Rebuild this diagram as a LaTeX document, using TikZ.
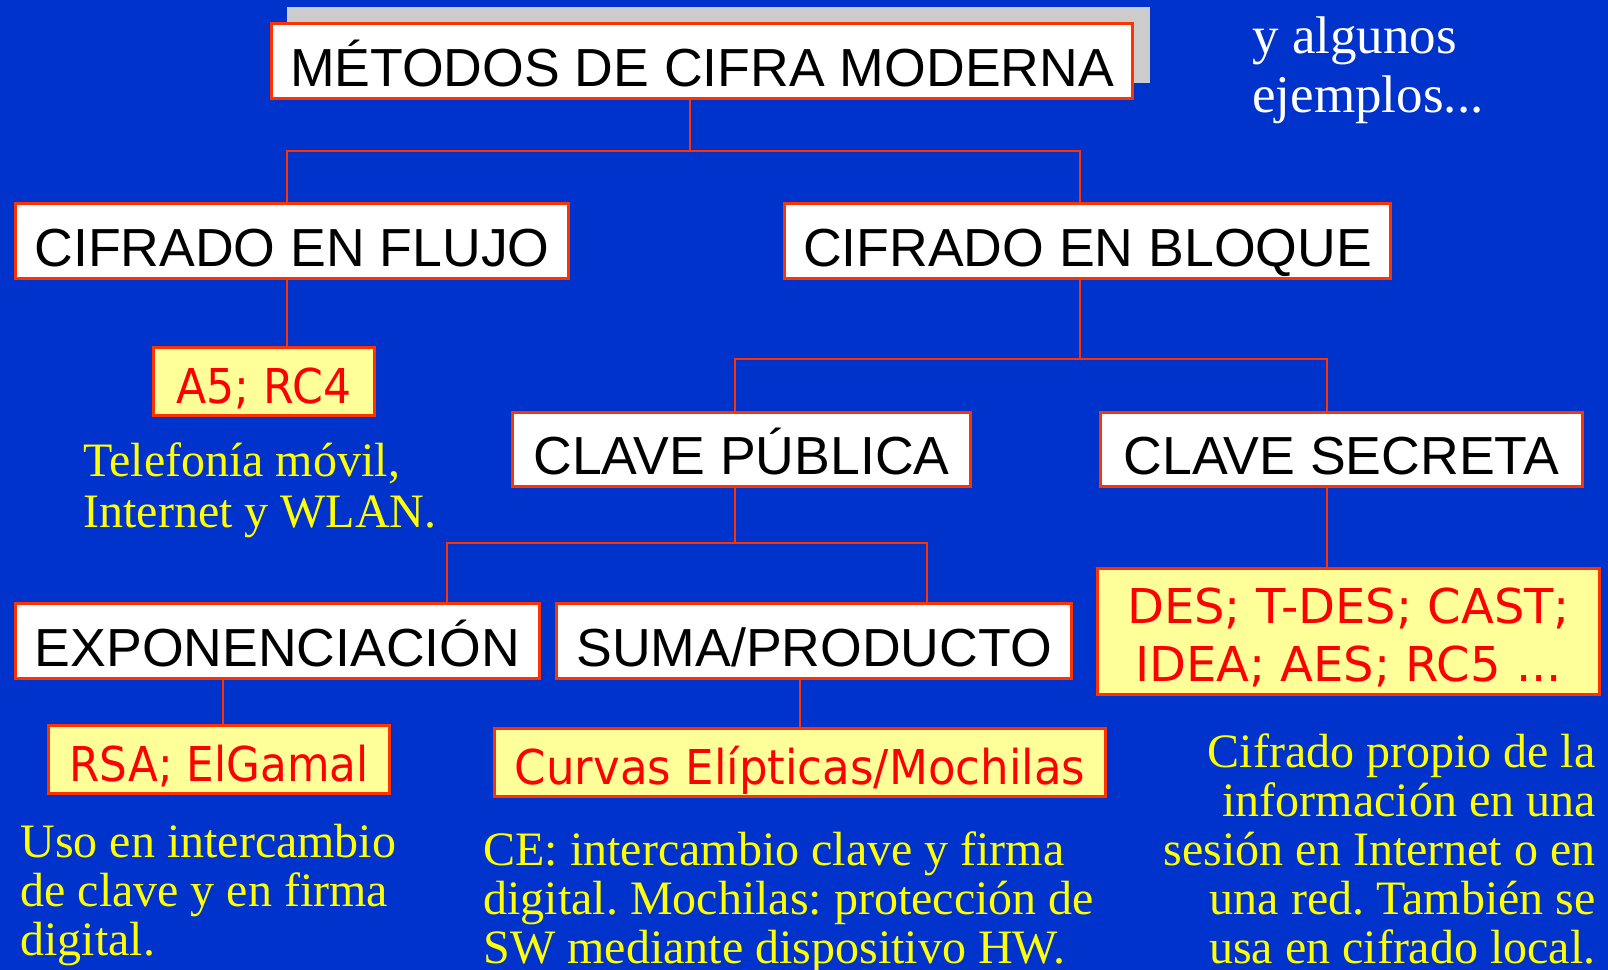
\documentclass[tikz,border=0pt]{standalone}
\usepackage{fontspec}
\usepackage{graphicx}
\setmainfont{Liberation Serif}
\newfontfamily\arialf{Liberation Sans}
\newfontfamily\comicf{DejaVu Sans}
\definecolor{bgblue}{HTML}{0033CC}
\definecolor{lineor}{HTML}{FF3300}
\definecolor{boxyel}{HTML}{FFFF99}
\definecolor{redtxt}{HTML}{FF0000}
\definecolor{yeltxt}{HTML}{FFFF00}
\definecolor{shadowgray}{HTML}{CCCCCC}
\newcommand\sm[1]{\smash{#1}}
\frenchspacing
\begin{document}
\begin{tikzpicture}[x=0.5pt,y=-0.5pt,
  box/.style={draw=lineor, line width=1.5pt, fill=white, inner sep=0pt,
    font=\arialf\fontsize{26.8}{30}\selectfont, text height=25pt, text depth=0pt},
  ybox/.style={draw=lineor, line width=1.5pt, fill=boxyel, inner sep=0pt, text=redtxt,
    font=\comicf\fontsize{24}{29}\selectfont, text height=21.5pt, text depth=0pt},
  conn/.style={draw=lineor, line width=1pt},
  note/.style={inner sep=0pt, text=yeltxt, font=\fontsize{24}{24.5}\selectfont},
  wnote/.style={inner sep=0pt, text=white, font=\fontsize{26.5}{29.5}\selectfont},
]
\fill[bgblue] (0,0) rectangle (1608,970);
\useasboundingbox (0,0) rectangle (1608,970);
\fill[shadowgray] (287,7) rectangle (1150,83);

% boxes
\node[box, minimum width=430.5pt, minimum height=37.5pt] (top) at (702,61) {MÉTODOS DE CIFRA MODERNA};
\node[box, minimum width=276.5pt, minimum height=37.5pt] (flujo) at (292,241) {CIFRADO EN FLUJO};
\node[box, minimum width=303pt, minimum height=37.5pt] (bloque) at (1087.5,241) {CIFRADO EN BLOQUE};
\node[box, minimum width=229pt, minimum height=37pt] (pub) at (741.5,449.5) {CLAVE PÚBLICA};
\node[box, minimum width=241pt, minimum height=37pt] (sec) at (1341.5,449.5) {CLAVE SECRETA};
\node[box, minimum width=262pt, minimum height=37.5pt] (exp) at (277.5,641) {EXPONENCIACIÓN};
\node[box, minimum width=257.5pt, minimum height=37.5pt] (suma) at (814,641) {SUMA/PRODUCTO};

\node[ybox, minimum width=110.5pt, minimum height=34pt] (a5) at (264,381.5) {\scalebox{0.92}[1]{A5; RC4}};
\node[ybox, minimum width=170.5pt, minimum height=34pt] (rsa) at (219,759.5) {\scalebox{0.91}[1]{RSA; ElGamal}};
\node[ybox, minimum width=305.5pt, minimum height=34pt] (curvas) at (800,762.5) {\scalebox{0.94}[1]{Curvas Elípticas/Mochilas}};
\node[ybox, minimum width=251pt, minimum height=63pt, text height=49.5pt] (des) at (1348.5,631.5)
  {\smash{\begin{tabular}[b]{@{}c@{}}DES; T-DES; CAST;\\IDEA; AES; RC5 ...\end{tabular}}};

% connectors
\coordinate (j1) at (690,151);
\coordinate (j2) at (1080,359);
\coordinate (j3) at (735,543);
\coordinate (xFl) at (287,0);
\coordinate (xBl) at (1080,0);
\coordinate (xPu) at (735,0);
\coordinate (xSe) at (1327,0);
\coordinate (xEx) at (447,0);
\coordinate (xSu) at (927,0);
\coordinate (xRs) at (223,0);
\coordinate (xCu) at (800,0);

\draw[conn] (top.south -| j1) -- (j1);
\draw[conn] (flujo.north -| xFl) |- (j1) -| (bloque.north -| xBl);
\draw[conn] (flujo.south -| xFl) -- (a5.north -| xFl);
\draw[conn] (bloque.south -| j2) -- (j2);
\draw[conn] (pub.north -| xPu) |- (j2) -| (sec.north -| xSe);
\draw[conn] (pub.south -| j3) -- (j3);
\draw[conn] (exp.north -| xEx) |- (j3) -| (suma.north -| xSu);
\draw[conn] (sec.south -| xSe) -- (des.north -| xSe);
\draw[conn] (exp.south -| xRs) -- (rsa.north -| xRs);
\draw[conn] (suma.south -| xCu) -- (curvas.north -| xCu);

% free texts
\node[wnote, anchor=base west] (yalg) at (1252,53)
  {\begin{tabular}[t]{@{}l@{}}\sm{y algunos}\\\sm{ejemplos...}\end{tabular}};
\node[note, anchor=base west, font=\fontsize{24}{25.5}\selectfont] (tele) at (83,476)
  {\begin{tabular}[t]{@{}l@{}}\sm{Telefonía móvil,}\\\sm{Internet y WLAN.}\end{tabular}};
\node[note, anchor=base west] (uso) at (20,857)
  {\begin{tabular}[t]{@{}l@{}}\sm{Uso en intercambio}\\\sm{de clave y en firma}\\\sm{digital.}\end{tabular}};
\node[note, anchor=base west] (ce) at (483,865)
  {\begin{tabular}[t]{@{}l@{}}\sm{CE: intercambio clave y firma}\\\sm{digital. Mochilas: protección de}\\\sm{SW mediante dispositivo HW.}\end{tabular}};
\node[note, anchor=base east] (cif) at (1596,767)
  {\begin{tabular}[t]{@{}r@{}}\sm{Cifrado propio de la}\\\sm{información en una}\\\sm{sesión en Internet o en}\\\sm{una red. También se}\\\sm{usa en cifrado local.}\end{tabular}};
\end{tikzpicture}
\end{document}
